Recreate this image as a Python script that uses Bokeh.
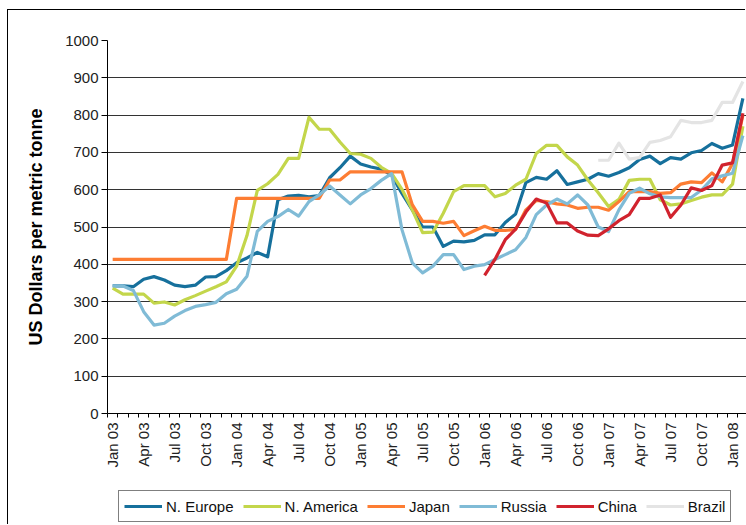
import numpy as np
from bokeh.plotting import figure
from bokeh.layouts import column
from bokeh.models import FixedTicker, Legend, LegendItem
from bokeh.embed import file_html
from bokeh.resources import INLINE

# month index 0 = Jan 03 ... 61 = Feb 08
tick_months = [0, 3, 6, 9, 12, 15, 18, 21, 24, 27, 30, 33, 36, 39, 42, 45, 48, 51, 54, 57, 60]
tick_labels = ["Jan 03", "Apr 03", "Jul 03", "Oct 03", "Jan 04", "Apr 04", "Jul 04", "Oct 04",
               "Jan 05", "Apr 05", "Jul 05", "Oct 05", "Jan 06", "Apr 06", "Jul 06", "Oct 06",
               "Jan 07", "Apr 07", "Jul 07", "Oct 07", "Jan 08"]

n_europe = [342, 342, 340, 360, 367, 358, 344, 340, 344, 366, 367, 383, 404, 417, 432, 420,
            573, 583, 585, 581, 584, 632, 659, 690, 669, 661, 655, 639, 590, 546, 500, 500,
            448, 462, 460, 464, 479, 479, 512, 535, 619, 633, 628, 651, 614, 621, 628, 643,
            636, 646, 659, 681, 690, 670, 686, 682, 699, 705, 724, 711, 720, 845]
n_america = [336, 320, 320, 320, 296, 299, 291, 305, 316, 328, 340, 353, 395, 477, 598, 616,
             641, 684, 684, 794, 762, 762, 728, 697, 695, 684, 660, 644, 601, 546, 485, 486,
             537, 595, 611, 611, 611, 581, 590, 612, 628, 697, 719, 719, 688, 666, 626, 592,
             555, 574, 625, 628, 628, 573, 559, 562, 571, 580, 586, 586, 615, 770]
japan = [413, 413, 413, 413, 413, 413, 413, 413, 413, 413, 413, 413,
         577, 577, 577, 577, 577, 577, 577, 577, 577, 626, 626,
         648, 648, 648, 648, 648, 648, 560, 515, 515, 510, 515, 477, 490, 502, 491, 491, 493,
         546, 571, 568, 562, 559, 550, 553, 553, 545, 568, 595, 595, 595, 590, 592, 615,
         621, 619, 645, 621, 670, 800]
russia = [342, 342, 330, 273, 237, 242, 261, 276, 287, 292, 298, 321, 333, 368, 488, 515,
          528, 547, 529, 568, 586, 610, 586, 562, 586, 603, 625, 643, 493, 404, 377, 395,
          426, 426, 386, 395, 399, 413, 426, 439, 472, 533, 559, 575, 562, 586, 559, 500,
          488, 546, 590, 604, 589, 581, 579, 579, 579, 599, 629, 637, 644, 745]
china = [None] * 36 + [370, 413, 466, 494, 540, 575, 564, 511, 511, 489, 478, 477,
                       495, 517, 533, 577, 577, 586, 526, 559, 605, 598, 611, 666, 672, 805]
brazil = [None] * 47 + [679, 679, 725, 682, 686, 727, 732, 742, 786, 780, 780, 786,
                        834, 834, 890]

series_names = ["N. Europe", "N. America", "Japan", "Russia", "China", "Brazil"]
series_values = [n_europe, n_america, japan, russia, china, brazil]
series_colors = ["#16709c", "#c3d64b", "#fd7d33", "#80bbd6", "#d1232e", "#e4e4e4"]

FONT = "Liberation Sans"
LW = 3.2

p = figure(width=738, height=480, x_range=(-0.5, 61.35), y_range=(0, 1000),
           output_backend="svg", toolbar_location=None,
           min_border_left=99, min_border_right=0, min_border_top=30, min_border_bottom=77)
p.outline_line_color = None
p.background_fill_color = "white"
p.border_fill_color = "white"

months = np.arange(len(n_europe))
for name, vals, col in zip(series_names, series_values, series_colors):
    y = np.array(vals, dtype=float)
    p.line(months, y, line_color=col, line_width=LW, line_join="round")

# x axis
xa = p.xaxis[0]
xa.ticker = FixedTicker(ticks=tick_months,
                        minor_ticks=[m - 0.5 for m in range(0, 63)])
xa.major_label_overrides = {m: lab for m, lab in zip(tick_months, tick_labels)}
xa.major_label_orientation = np.pi / 2
xa.major_tick_in = 0
xa.major_tick_out = 0
xa.minor_tick_in = 0
xa.minor_tick_out = 4
xa.minor_tick_line_color = "black"
xa.axis_line_color = "black"
xa.major_label_text_font = FONT
xa.major_label_text_font_size = "15px"
xa.major_label_text_color = "#222222"
xa.major_label_standoff = 5

# y axis
ya = p.yaxis[0]
ya.ticker = FixedTicker(ticks=list(range(0, 1001, 100)))
ya.major_tick_in = 0
ya.major_tick_out = 6
ya.minor_tick_out = 0
ya.minor_tick_in = 0
ya.major_tick_line_color = "black"
ya.axis_line_color = "black"
ya.major_label_text_font = FONT
ya.major_label_text_font_size = "15px"
ya.major_label_text_color = "#222222"
ya.major_label_standoff = 3
ya.axis_label = "US Dollars per metric tonne"
ya.axis_label_text_font = FONT
ya.axis_label_text_font_style = "bold"
ya.axis_label_text_font_size = "18px"
ya.axis_label_text_color = "black"
ya.axis_label_standoff = 16

p.xgrid.grid_line_color = None
p.ygrid.ticker = FixedTicker(ticks=list(range(100, 1000, 100)))
p.ygrid.grid_line_color = "#333333"
p.ygrid.grid_line_width = 1

# legend strip below the chart (its series lie outside its visible y range)
pl = figure(width=738, height=35, output_backend="svg", toolbar_location=None,
            x_range=(-0.5, 61.35), y_range=(-20, -10),
            x_axis_location=None, y_axis_location=None,
            min_border_left=99, min_border_right=0, min_border_top=0, min_border_bottom=0)
pl.outline_line_color = None
pl.xgrid.visible = False
pl.ygrid.visible = False
pl.border_fill_color = "white"
pl.background_fill_color = "white"
items = []
for name, vals, col in zip(series_names, series_values, series_colors):
    r = pl.line(months, np.array(vals, dtype=float), line_color=col, line_width=LW)
    items.append(LegendItem(label=name, renderers=[r]))

legend = Legend(items=items, orientation="horizontal", location=(11, 3))
legend.glyph_width = 38
legend.glyph_height = 20
legend.label_standoff = 4
legend.spacing = 9
legend.padding = 5
legend.margin = 0
legend.label_text_font = FONT
legend.label_text_font_size = "15px"
legend.label_text_color = "#111111"
legend.border_line_color = "black"
legend.border_line_width = 1
legend.background_fill_color = "white"
pl.add_layout(legend, "center")

layout = column(p, pl, margin=(10, 0, 0, 8),
                styles={"box-shadow": "-1px -1px 0 0 #000000"})

open("out.html", "w").write(file_html(layout, INLINE))
